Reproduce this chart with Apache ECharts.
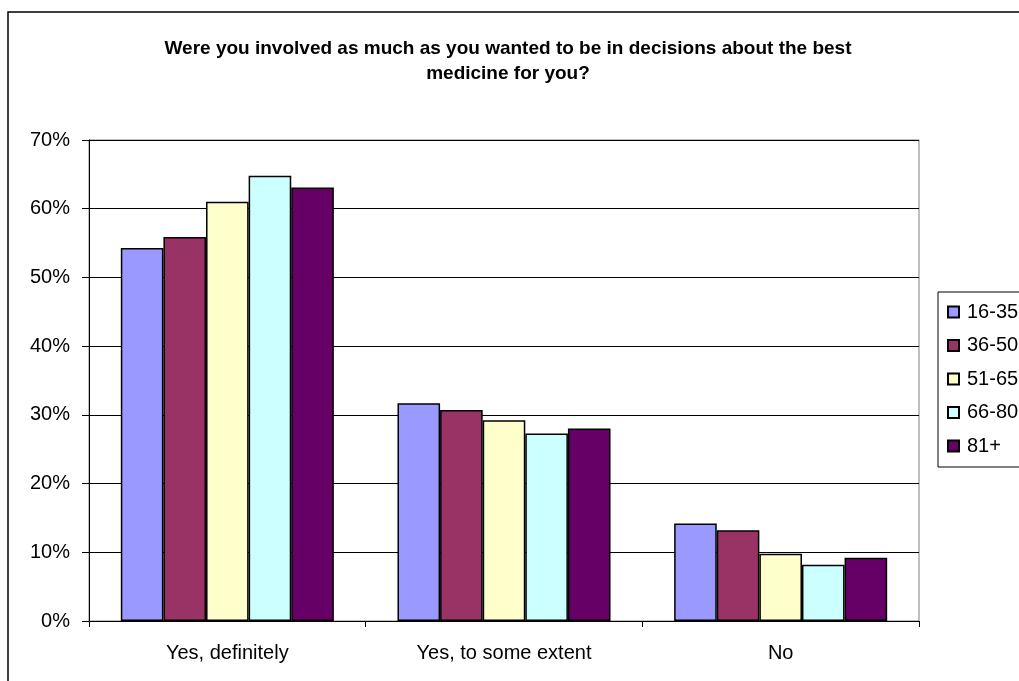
<!DOCTYPE html>
<html>
<head>
<meta charset="utf-8">
<script src="https://cdn.jsdelivr.net/npm/echarts@6/dist/echarts.min.js"></script>
<style>
html,body{margin:0;padding:0;background:#fff;}
#c{width:1019px;height:681px;}
</style>
</head>
<body>
<div id="c"></div>
<script>
const categories = ["Yes, definitely", "Yes, to some extent", "No"];
const seriesNames = ["16-35", "36-50", "51-65", "66-80", "81+"];
const colors = ["#9999FF", "#993366", "#FFFFCC", "#CCFFFF", "#660066"];
const v16_35 = [54.3, 31.7, 14.2];
const v36_50 = [55.9, 30.7, 13.2];
const v51_65 = [61.0, 29.2, 9.8];
const v66_80 = [64.8, 27.3, 8.2];
const v81p = [63.1, 28.0, 9.2];
const yTicks = [0, 10, 20, 30, 40, 50, 60, 70];
const titleText = "Were you involved as much as you wanted to be in decisions about the best\nmedicine for you?";

const values = [v16_35, v36_50, v51_65, v66_80, v81p];
const FONT = "'Liberation Sans', Arial, sans-serif";

const chart = echarts.init(document.getElementById('c'), null, {renderer: 'canvas'});
chart.setOption({
  animation: false,
  backgroundColor: '#fff',
  title: {
    text: titleText,
    left: 503,
    textAlign: 'center',
    top: 31,
    textStyle: {fontFamily: FONT, fontSize: 19, fontWeight: 'bold', color: '#000', lineHeight: 25}
  },
  graphic: [{
    type: 'rect',
    shape: {x: 8, y: 12, width: 1100, height: 800},
    style: {fill: null, stroke: '#000', lineWidth: 1.5},
    silent: true
  }],
  legend: {
    orient: 'vertical',
    left: 938,
    top: 292,
    padding: [10, 40, 11, 9],
    itemGap: 13.5,
    itemWidth: 11,
    itemHeight: 11,
    icon: 'rect',
    borderColor: '#000',
    borderWidth: 1,
    textStyle: {fontFamily: FONT, fontSize: 20, color: '#000', padding: [0, 0, 0, 3]},
    data: seriesNames
  },
  grid: {left: 89, right: 100, top: 140, bottom: 60, show: true, borderColor: '#808080', borderWidth: 1},
  xAxis: {
    type: 'category',
    data: categories,
    axisLine: {lineStyle: {color: '#000', width: 1}},
    axisTick: {show: true, length: 6, lineStyle: {color: '#000'}},
    axisLabel: {fontFamily: FONT, fontSize: 20, color: '#000', margin: 22}
  },
  yAxis: {
    type: 'value',
    min: 0,
    max: 70,
    interval: 10,
    axisLine: {show: true, lineStyle: {color: '#000', width: 1}},
    axisTick: {show: true, length: 7, lineStyle: {color: '#000'}},
    splitLine: {lineStyle: {color: '#000', width: 1}},
    axisLabel: {fontFamily: FONT, fontSize: 20, color: '#000', margin: 19,
      formatter: v => (yTicks.indexOf(v) >= 0 ? v + '%' : '')}
  },
  series: seriesNames.map((n, i) => ({
    name: n,
    type: 'bar',
    data: values[i],
    barGap: '0%',
    barCategoryGap: '23%',
    itemStyle: {color: colors[i], borderColor: '#000', borderWidth: 1.5}
  }))
});
</script>
</body>
</html>
